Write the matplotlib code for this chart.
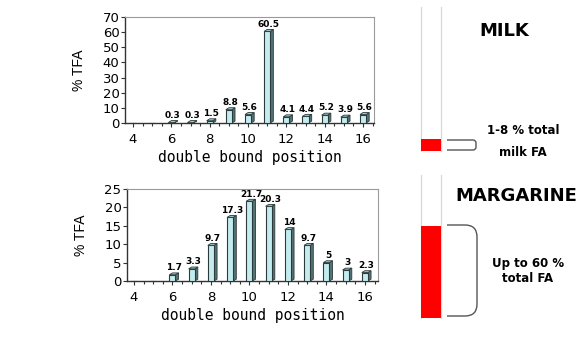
"""
Trans fatty acid isomers: double bond position in milk vs margarine
"""

import matplotlib
matplotlib.use("Agg")
import matplotlib.pyplot as plt
from matplotlib.patches import Polygon, PathPatch
from matplotlib.path import Path
import numpy as np

positions = [4, 5, 6, 7, 8, 9, 10, 11, 12, 13, 14, 15, 16]
milk = [0, 0, 0.3, 0.3, 1.5, 8.8, 5.6, 60.5, 4.1, 4.4, 5.2, 3.9, 5.6]
margarine = [0, 0, 1.7, 3.3, 9.7, 17.3, 21.7, 20.3, 14, 9.7, 5, 3, 2.3]
xticks = [4, 6, 8, 10, 12, 14, 16]

milk_share = 8        # % of total milk FA
margarine_share = 60  # % of total margarine FA

FRONT = "#c4ecee"
SIDE = "#557475"
EDGE = "#2c3a3b"

plt.rcParams["font.family"] = ["Liberation Sans", "DejaVu Sans"]

fig = plt.figure(figsize=(5.86, 3.4), dpi=100)


def bars3d(ax, x, vals, dy, w=0.32, d=0.16):
    x = np.asarray(x, dtype=float)
    ax.bar(x, vals, width=w, color=FRONT, edgecolor=EDGE, linewidth=0.8, zorder=3)
    for xi, v in zip(x, vals):
        if v <= 0:
            continue
        r = xi + w / 2
        side = Polygon([(r, 0), (r + d, dy), (r + d, v + dy), (r, v)],
                       closed=True, facecolor=SIDE, edgecolor=EDGE, lw=0.6, zorder=2)
        top = Polygon([(xi - w / 2, v), (r, v), (r + d, v + dy), (xi - w / 2 + d, v + dy)],
                      closed=True, facecolor="#9fc9cc", edgecolor=EDGE, lw=0.6, zorder=4)
        ax.add_patch(side)
        ax.add_patch(top)
        ax.text(xi + d / 2, v + dy * 1.4, f"{v:g}", ha="center", va="bottom",
                fontsize=6.5, fontweight="bold", family="DejaVu Sans", zorder=5)


def style(ax, ymax, ystep, xlim):
    ax.set_xlim(*xlim)
    ax.set_ylim(0, ymax)
    ax.set_yticks(np.arange(0, ymax + 1, ystep))
    ax.set_xticks(xticks)
    ax.set_xticks(np.arange(4, 16.6, 0.5), minor=True)
    ax.tick_params(axis="both", labelsize=9.5, length=3, width=0.8, color="#333333")
    ax.tick_params(axis="x", which="minor", length=2, width=0.8, color="#333333")
    ax.tick_params(axis="x", pad=4)
    ax.tick_params(axis="y", pad=1)
    for lbl in ax.get_xticklabels() + ax.get_yticklabels():
        lbl.set_family("DejaVu Sans")
    for s in ("left", "bottom"):
        ax.spines[s].set_color("#333333")
        ax.spines[s].set_linewidth(1.0)
    for s in ("top", "right"):
        ax.spines[s].set_color("#9a9a9a")
        ax.spines[s].set_linewidth(0.8)
    ax.set_ylabel("% TFA", fontsize=10, labelpad=12)
    ax.set_xlabel("double bound position", fontsize=10.5,
                  family="DejaVu Sans Mono", labelpad=3)


ax1 = fig.add_axes([0.2133, 0.6382, 0.4249, 0.3118])
bars3d(ax1, positions, milk, dy=1.3)
style(ax1, 70, 10, (3.58, 16.57))

ax2 = fig.add_axes([0.2167, 0.1735, 0.4283, 0.2706])
bars3d(ax2, positions, margarine, dy=0.5)
style(ax2, 25, 5, (3.64, 16.68))


# tubes showing share of total fat
def tube(rect, share):
    ax = fig.add_axes(rect)
    ax.set_xlim(0, 1)
    ax.set_ylim(0, 93)
    ax.axis("off")
    ax.bar([0.5], [share], width=1.0, color="#ff0000", zorder=2)
    ax.plot([0, 0], [0, 93], color="#d8d8d8", lw=0.9, zorder=1, clip_on=False)
    ax.plot([1, 1], [0, 93], color="#d8d8d8", lw=0.9, zorder=1, clip_on=False)
    return ax


tube([421 / 586, (340 - 151) / 340, 20 / 586, 144 / 340], milk_share)
tube([421 / 586, (340 - 318) / 340, 20 / 586, 143 / 340], margarine_share)

# overlay in pixel coordinates for brackets and captions
ov = fig.add_axes([0, 0, 1, 1])
ov.set_xlim(0, 586)
ov.set_ylim(340, 0)
ov.axis("off")


def bracket(x0, x1, y0, y1, r):
    verts = [(x0, y0), (x1 - r, y0), (x1, y0), (x1, y0 + r),
             (x1, y1 - r), (x1, y1), (x1 - r, y1), (x0, y1)]
    codes = [Path.MOVETO, Path.LINETO, Path.CURVE3, Path.CURVE3,
             Path.LINETO, Path.CURVE3, Path.CURVE3, Path.LINETO]
    ov.add_patch(PathPatch(Path(verts, codes), facecolor="none",
                           edgecolor="#555555", lw=1.0))


bracket(447, 476, 140, 150, 3)
bracket(447, 477, 225, 316, 12)

bold = dict(family="DejaVu Sans", fontweight="bold", ha="center", va="center")
ov.text(504, 31, "MILK", fontsize=13, **bold)
ov.text(516, 196, "MARGARINE", fontsize=13, **bold)
ov.text(523, 131, "1-8 % total", fontsize=8.5, **bold)
ov.text(523, 152, "milk FA", fontsize=8.5, **bold)
ov.text(528, 264, "Up to 60 %", fontsize=8.5, **bold)
ov.text(528, 279, "total FA", fontsize=8.5, **bold)

fig.savefig("out.png", dpi=100)
